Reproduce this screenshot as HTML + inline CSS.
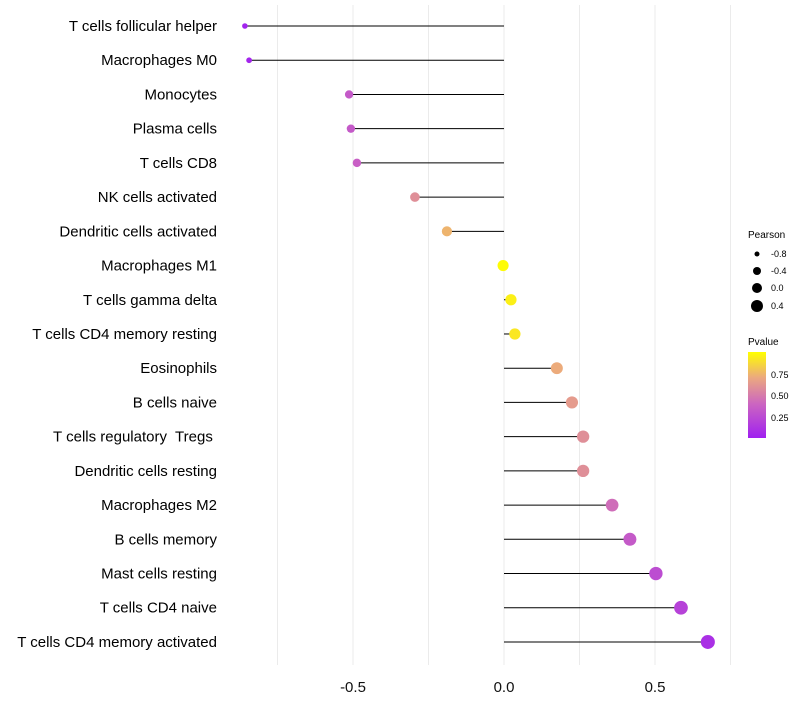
<!DOCTYPE html>
<html><head><meta charset="utf-8"><style>
body{margin:0;background:#fff;font-family:"Liberation Sans",sans-serif}
text{white-space:pre}
</style></head><body>
<svg id="chart" width="800" height="700">
<defs><linearGradient id="pg" x1="0" y1="1" x2="0" y2="0">
<stop offset="0" stop-color="#a020f0"/><stop offset="0.4" stop-color="#cc66c0"/><stop offset="0.7" stop-color="#eba880"/><stop offset="1" stop-color="#ffff00"/>
</linearGradient></defs>
<g id="grid"></g><g id="marks"></g><g id="labels"></g>
<g id="legend" font-size="9" fill="#000">
<text x="748" y="238" font-size="10">Pearson</text>
<circle cx="757" cy="254" r="2.5"/><text x="771" y="257">-0.8</text>
<circle cx="757" cy="271" r="4"/><text x="771" y="274">-0.4</text>
<circle cx="757" cy="288" r="5"/><text x="771" y="291">0.0</text>
<circle cx="757" cy="306" r="6"/><text x="771" y="309">0.4</text>
<text x="748" y="345" font-size="10">Pvalue</text>
<rect x="748" y="352" width="18" height="86" fill="url(#pg)"/>
<text x="771" y="378">0.75</text>
<text x="771" y="399">0.50</text>
<text x="771" y="421">0.25</text>
</g>
</svg>
<script>
const categories=["T cells follicular helper","Macrophages M0","Monocytes","Plasma cells","T cells CD8","NK cells activated","Dendritic cells activated","Macrophages M1","T cells gamma delta","T cells CD4 memory resting","Eosinophils","B cells naive","T cells regulatory  Tregs ","Dendritic cells resting","Macrophages M2","B cells memory","Mast cells resting","T cells CD4 naive","T cells CD4 memory activated"];
const pearson=[-0.858,-0.844,-0.513,-0.507,-0.487,-0.295,-0.189,-0.003,0.023,0.036,0.175,0.225,0.262,0.262,0.358,0.417,0.503,0.586,0.675];
const pvalue=[0.05,0.06,0.35,0.35,0.38,0.6,0.75,0.99,0.95,0.92,0.72,0.65,0.6,0.6,0.45,0.35,0.28,0.22,0.12];
const xTicks=[-0.5,0,0.5];
const xTickLabels=["-0.5","0.0","0.5"];
const NS="http://www.w3.org/2000/svg";
const xs=v=>504+v*302;
const ys=i=>26+i*34.22;
const rs=v=>Math.sqrt(Math.max(3,31+27*v));
const stops=[[0,[160,32,240]],[0.4,[204,102,192]],[0.7,[235,168,128]],[1,[255,255,0]]];
function col(p){let t=(p-0.03)/0.97;t=Math.max(0,Math.min(1,t));
for(let k=1;k<stops.length;k++){if(t<=stops[k][0]){const a=stops[k-1],b=stops[k];const f=(t-a[0])/(b[0]-a[0]);
return "rgb("+a[1].map((c,j)=>Math.round(c+(b[1][j]-c)*f)).join(",")+")";}}return "rgb(255,255,0)";}
function mk(t,attrs,parent){const e=document.createElementNS(NS,t);for(const k in attrs)e.setAttribute(k,attrs[k]);parent.appendChild(e);return e;}
const grid=document.getElementById('grid'),marks=document.getElementById('marks'),labels=document.getElementById('labels');
for(let g=-0.75;g<=0.76;g+=0.25){const l=mk('line',{x1:xs(g),x2:xs(g),y1:5,y2:665,stroke:'#ebebeb','stroke-width':1},grid);

}
xTicks.forEach((v,i)=>{const t=mk('text',{x:xs(v),y:692,'text-anchor':'middle','font-size':15,fill:'#111'},labels);t.textContent=xTickLabels[i];

});
categories.forEach((c,i)=>{
const t=mk('text',{x:217,y:ys(i)+5,'text-anchor':'end','font-size':15,fill:'#000'},labels);t.textContent=c;


const l=mk('line',{x1:xs(0),x2:xs(pearson[i]),y1:ys(i),y2:ys(i),stroke:'#000','stroke-width':1},marks);


const p=mk('circle',{cx:xs(pearson[i]),cy:ys(i),r:rs(pearson[i]),fill:col(pvalue[i])},marks);


});
</script>
</body></html>
